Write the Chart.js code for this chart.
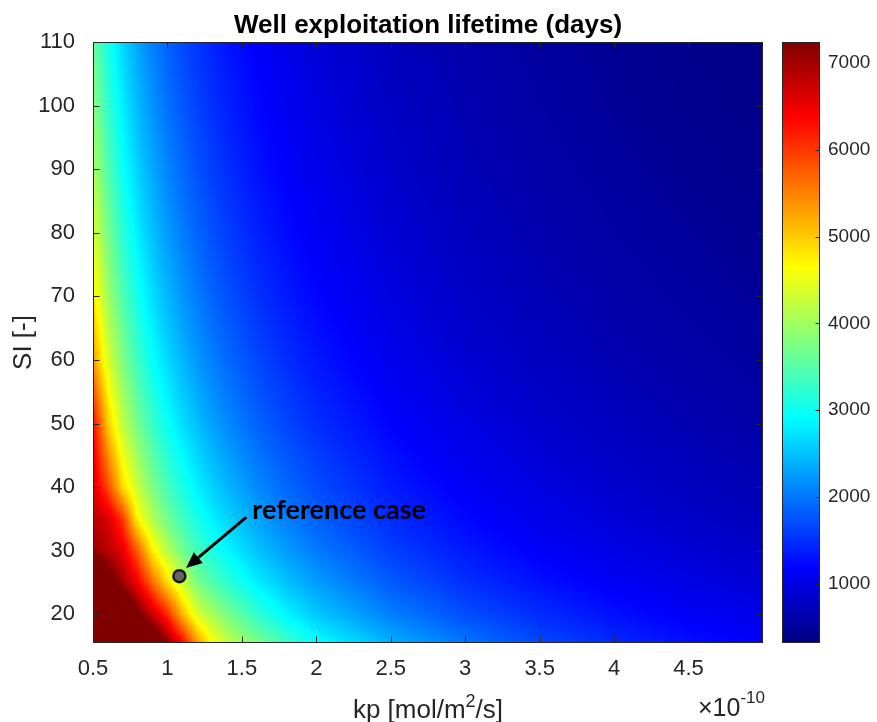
<!DOCTYPE html>
<html>
<head>
<meta charset="utf-8">
<script src="https://cdn.jsdelivr.net/npm/chart.js@4.4.0/dist/chart.umd.min.js"></script>
<style>
  html, body { margin: 0; padding: 0; background: #fff; }
  #wrap { width: 877px; height: 722px; }
</style>
</head>
<body>
<div id="wrap"><canvas id="lifetime"></canvas></div>
<script>
// kp grid, in units of 1e-10 mol/m2/s
var kpGrid = [0.5, 0.6, 0.7, 0.8, 0.9, 1.0, 1.1, 1.2, 1.3, 1.4, 1.6, 1.8, 2.0, 2.5, 3.0, 3.5, 4.0, 4.5, 5.0];
// saturation index grid
var siGrid = [15.5, 20, 25, 30, 35, 40, 50, 60, 70, 80, 90, 100, 110];
// well lifetime in days, one row per SI value (bottom row first)
var lifetime = [
  [11500, 10200, 9300, 8600, 7900, 7150, 6375, 5350, 4645, 4250, 3750, 3330, 2950, 2380, 1980, 1680, 1450, 1280, 1150],
  [10200, 9000, 8100, 7350, 6750, 6100, 5150, 4400, 4050, 3750, 3250, 2850, 2550, 2050, 1710, 1470, 1285, 1140, 1030],
  [8600, 7600, 7000, 6450, 5650, 4900, 4300, 3750, 3465, 3220, 2815, 2500, 2250, 1800, 1500, 1290, 1125, 1000, 900],
  [7100, 6850, 6550, 5750, 4750, 4150, 3700, 3350, 3100, 2880, 2520, 2240, 2015, 1610, 1345, 1150, 1010, 895, 805],
  [6850, 6650, 6000, 4700, 4100, 3680, 3345, 3065, 2830, 2630, 2300, 2045, 1840, 1470, 1225, 1050, 920, 815, 735],
  [6650, 5900, 4900, 4250, 3770, 3395, 3085, 2830, 2610, 2425, 2120, 1885, 1700, 1360, 1130, 970, 850, 755, 680],
  [6350, 5000, 4200, 3700, 3290, 2970, 2700, 2475, 2285, 2120, 1855, 1650, 1485, 1190, 990, 850, 745, 660, 595],
  [5350, 4400, 3780, 3320, 2950, 2660, 2420, 2215, 2045, 1900, 1660, 1480, 1330, 1065, 885, 760, 665, 590, 530],
  [4800, 4000, 3450, 3030, 2690, 2425, 2205, 2020, 1865, 1730, 1515, 1350, 1210, 970, 810, 695, 605, 540, 485],
  [4400, 3730, 3200, 2800, 2490, 2240, 2035, 1865, 1725, 1600, 1400, 1245, 1120, 895, 745, 640, 560, 500, 450],
  [4100, 3480, 2980, 2610, 2320, 2090, 1900, 1740, 1605, 1490, 1305, 1160, 1045, 835, 695, 595, 520, 465, 420],
  [3850, 3265, 2800, 2450, 2180, 1960, 1780, 1630, 1505, 1400, 1225, 1090, 980, 785, 655, 560, 490, 435, 390],
  [3650, 3085, 2640, 2310, 2055, 1850, 1680, 1540, 1425, 1320, 1155, 1030, 925, 740, 615, 530, 465, 410, 370]
];
var xTicks = [0.5, 1, 1.5, 2, 2.5, 3, 3.5, 4, 4.5];
var yTicks = [20, 30, 40, 50, 60, 70, 80, 90, 100, 110];
var cbarTicks = [1000, 2000, 3000, 4000, 5000, 6000, 7000];
var cRange = [320, 7240];

// reference case and its callout (kp, SI)
var refCase = [1.08, 26];
var arrowFrom = [1.53, 35.3];
var arrowTo = [1.125, 27.3];
var labelAt = [1.57, 35.0];

var FONT = "'Liberation Sans', Arial, Helvetica, sans-serif";
var AXIS_COLOR = '#262626';

function jet(v) {
  var t = (v - cRange[0]) / (cRange[1] - cRange[0]);
  t = Math.min(1, Math.max(0, t));
  function c(x) { return Math.round(255 * Math.min(1, Math.max(0, x))); }
  return [c(1.5 - Math.abs(4 * t - 3)), c(1.5 - Math.abs(4 * t - 2)), c(1.5 - Math.abs(4 * t - 1))];
}

function locate(grid, v) {
  var i = 0;
  while (i < grid.length - 2 && v > grid[i + 1]) i++;
  var f = (v - grid[i]) / (grid[i + 1] - grid[i]);
  return [i, Math.min(1, Math.max(0, f))];
}

function fixedTicks(list) {
  return function (scale) {
    scale.ticks = list.map(function (v) { return { value: v }; });
  };
}

// interpolated colour field plus the colour bar strip
var heatmap = {
  id: 'heatmap',
  beforeDatasetsDraw: function (chart) {
    var ctx = chart.ctx, area = chart.chartArea;
    var xs = chart.scales.x, ys = chart.scales.y, cb = chart.scales.cbar;
    var w = Math.round(area.right - area.left), h = Math.round(area.bottom - area.top);
    var off = document.createElement('canvas');
    off.width = w; off.height = h;
    var octx = off.getContext('2d');
    var img = octx.createImageData(w, h);
    var cols = [], rows = [], i, j;
    for (i = 0; i < w; i++) cols.push(locate(kpGrid, xs.getValueForPixel(area.left + i + 0.5)));
    for (j = 0; j < h; j++) rows.push(locate(siGrid, ys.getValueForPixel(area.top + j + 0.5)));
    var p = 0;
    for (j = 0; j < h; j++) {
      var r0 = lifetime[rows[j][0]], r1 = lifetime[rows[j][0] + 1], fy = rows[j][1];
      for (i = 0; i < w; i++) {
        var k = cols[i][0], fx = cols[i][1];
        var v0 = r0[k] + (r0[k + 1] - r0[k]) * fx;
        var v1 = r1[k] + (r1[k + 1] - r1[k]) * fx;
        var c = jet(v0 + (v1 - v0) * fy);
        img.data[p++] = c[0]; img.data[p++] = c[1]; img.data[p++] = c[2]; img.data[p++] = 255;
      }
    }
    octx.putImageData(img, 0, 0);
    ctx.drawImage(off, area.left, area.top);

    // colour bar
    var bx = Math.round(cb.left) + 19, bw = 38;
    for (j = Math.round(cb.top); j < Math.round(cb.bottom); j++) {
      var col = jet(cb.getValueForPixel(j + 0.5));
      ctx.fillStyle = 'rgb(' + col[0] + ',' + col[1] + ',' + col[2] + ')';
      ctx.fillRect(bx, j, bw, 1);
    }
  },
  afterDatasetsDraw: function (chart) {
    var ctx = chart.ctx, area = chart.chartArea;
    var xs = chart.scales.x, ys = chart.scales.y, cb = chart.scales.cbar;
    var L = Math.round(area.left) + 0.5, R = Math.round(area.right) - 0.5;
    var T = Math.round(area.top) + 0.5, B = Math.round(area.bottom) - 0.5;
    ctx.save();
    ctx.strokeStyle = AXIS_COLOR;
    ctx.lineWidth = 1;
    ctx.strokeRect(L, T, R - L, B - T);
    ctx.beginPath();
    xTicks.forEach(function (v) {
      var x = Math.round(xs.getPixelForValue(v)) + 0.5;
      ctx.moveTo(x, B); ctx.lineTo(x, B - 6);
      ctx.moveTo(x, T); ctx.lineTo(x, T + 6);
    });
    yTicks.forEach(function (v) {
      var y = Math.round(ys.getPixelForValue(v)) + 0.5;
      ctx.moveTo(L, y); ctx.lineTo(L + 6, y);
      ctx.moveTo(R, y); ctx.lineTo(R - 6, y);
    });
    ctx.stroke();

    // colour bar frame and ticks
    var bx = Math.round(cb.left) + 19 + 0.5, bw = 37;
    ctx.strokeRect(bx, T, bw, B - T);
    ctx.beginPath();
    cbarTicks.forEach(function (v) {
      var y = Math.round(cb.getPixelForValue(v)) + 0.5;
      ctx.moveTo(bx + bw, y); ctx.lineTo(bx + bw - 4, y);
    });
    ctx.stroke();

    // callout arrow
    var x0 = xs.getPixelForValue(arrowFrom[0]), y0 = ys.getPixelForValue(arrowFrom[1]);
    var x1 = xs.getPixelForValue(arrowTo[0]), y1 = ys.getPixelForValue(arrowTo[1]);
    var ang = Math.atan2(y1 - y0, x1 - x0), head = 16, half = 7;
    var hx = x1 - head * Math.cos(ang), hy = y1 - head * Math.sin(ang);
    ctx.strokeStyle = '#000';
    ctx.lineWidth = 3;
    ctx.beginPath();
    ctx.moveTo(x0, y0); ctx.lineTo(hx, hy);
    ctx.stroke();
    ctx.fillStyle = '#000';
    ctx.beginPath();
    ctx.moveTo(x1, y1);
    ctx.lineTo(hx + half * Math.sin(ang), hy - half * Math.cos(ang));
    ctx.lineTo(hx - half * Math.sin(ang), hy + half * Math.cos(ang));
    ctx.closePath();
    ctx.fill();

    ctx.font = "bold 27px Lato, 'Open Sans', sans-serif";
    ctx.textAlign = 'left';
    ctx.textBaseline = 'alphabetic';
    ctx.fillText('reference case', xs.getPixelForValue(labelAt[0]), ys.getPixelForValue(labelAt[1]));
    ctx.restore();
  },
  afterDraw: function (chart) {
    var ctx = chart.ctx, area = chart.chartArea;
    var cx = (area.left + area.right) / 2, cy = (area.top + area.bottom) / 2;
    ctx.save();
    ctx.textBaseline = 'alphabetic';

    // title
    ctx.fillStyle = '#000';
    ctx.font = 'bold 26px ' + FONT;
    ctx.textAlign = 'center';
    ctx.fillText('Well exploitation lifetime (days)', cx, 33);

    // x label with superscript
    ctx.fillStyle = AXIS_COLOR;
    ctx.textAlign = 'left';
    var big = '26px ' + FONT, small = '18px ' + FONT;
    ctx.font = big;
    var wa = ctx.measureText('kp [mol/m').width, wc = ctx.measureText('/s]').width;
    ctx.font = small;
    var wb = ctx.measureText('2').width;
    var x = cx - (wa + wb + wc) / 2, base = 718;
    ctx.font = big; ctx.fillText('kp [mol/m', x, base);
    ctx.font = small; ctx.fillText('2', x + wa, base - 11);
    ctx.font = big; ctx.fillText('/s]', x + wa + wb, base);

    // x exponent
    ctx.font = '25px ' + FONT;
    var wm = ctx.measureText('\u00d710').width;
    ctx.font = '17px ' + FONT;
    var we = ctx.measureText('-10').width;
    var ex = area.right + 2 - wm - we;
    ctx.font = '25px ' + FONT; ctx.fillText('\u00d710', ex, 716);
    ctx.font = '17px ' + FONT; ctx.fillText('-10', ex + wm, 703);

    // y label
    ctx.translate(31, cy);
    ctx.rotate(-Math.PI / 2);
    ctx.textAlign = 'center';
    ctx.font = big;
    ctx.fillText('SI [-]', 0, 0);
    ctx.restore();
  }
};

new Chart(document.getElementById('lifetime'), {
  type: 'scatter',
  data: {
    datasets: [{
      label: 'reference case',
      data: [{ x: refCase[0], y: refCase[1] }],
      pointRadius: 6,
      pointHoverRadius: 6,
      pointBackgroundColor: '#666666',
      pointBorderColor: '#1a1a1a',
      pointBorderWidth: 2.5,
      yAxisID: 'y'
    }]
  },
  options: {
    responsive: true,
    maintainAspectRatio: false,
    animation: false,
    events: [],
    layout: { padding: { top: 42, left: 0, right: 0, bottom: 0 } },
    plugins: { legend: { display: false }, tooltip: { enabled: false } },
    scales: {
      x: {
        type: 'linear', min: 0.5, max: 5,
        afterBuildTicks: fixedTicks(xTicks),
        afterFit: function (s) { s.height = 79; },
        grid: { display: false }, border: { display: false },
        ticks: { padding: 5, color: AXIS_COLOR, font: { family: FONT, size: 22 }, maxRotation: 0, autoSkip: false,
                 callback: function (v) { return String(v); } }
      },
      y: {
        type: 'linear', position: 'left', min: 15.5, max: 110,
        afterBuildTicks: fixedTicks(yTicks),
        afterFit: function (s) { s.width = 93; },
        grid: { display: false }, border: { display: false },
        ticks: { padding: 10, color: AXIS_COLOR, font: { family: FONT, size: 22 }, autoSkip: false,
                 callback: function (v) { return String(v); } }
      },
      cbar: {
        type: 'linear', axis: 'y', position: 'right', min: cRange[0], max: cRange[1],
        afterBuildTicks: fixedTicks(cbarTicks),
        afterFit: function (s) { s.width = 114; },
        // invisible tick marks push the labels past the colour strip
        grid: { display: true, drawOnChartArea: false, drawTicks: true, tickLength: 65, color: 'rgba(0,0,0,0)' },
        border: { display: false },
        ticks: { padding: 0, color: AXIS_COLOR, font: { family: FONT, size: 19 }, autoSkip: false,
                 callback: function (v) { return String(v); } }
      }
    }
  },
  plugins: [heatmap]
});
</script>
</body>
</html>
